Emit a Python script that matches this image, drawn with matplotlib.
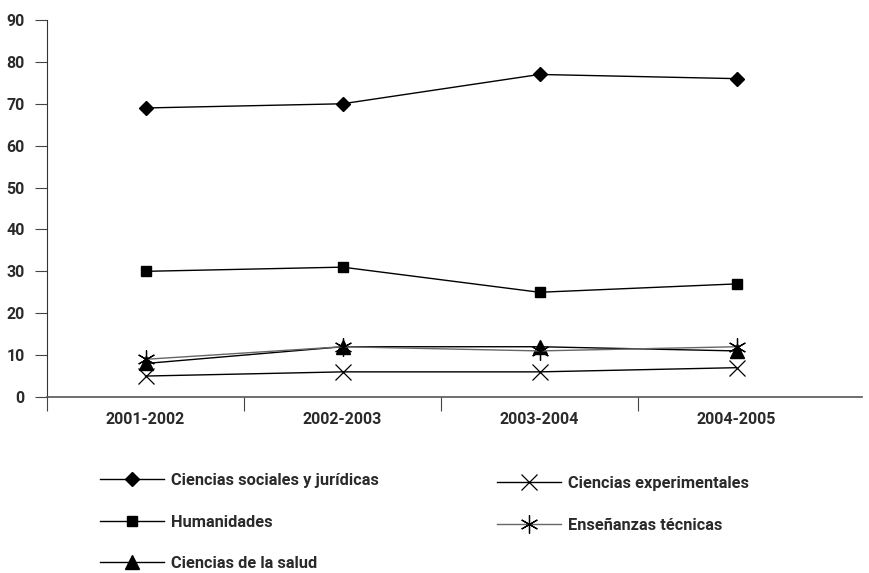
import matplotlib
matplotlib.use('Agg')
import matplotlib.pyplot as plt
from matplotlib.lines import Line2D

# ==== DATA ====
cursos = ['2001-2002', '2002-2003', '2003-2004', '2004-2005']
sociales = [69, 70, 77, 76]
humanidades = [30, 31, 25, 27]
salud = [8, 12, 12, 11]
experimentales = [5, 6, 6, 7]
tecnicas = [9, 12, 11, 12]
y_ticks = [0, 10, 20, 30, 40, 50, 60, 70, 80, 90]
# ==============

plt.rcParams['font.family'] = ['Roboto', 'DejaVu Sans']
plt.rcParams['font.weight'] = 'bold'
plt.rcParams['text.color'] = '#2a2a2a'
plt.rcParams['xtick.color'] = '#444444'
plt.rcParams['ytick.color'] = '#444444'
plt.rcParams['xtick.labelcolor'] = '#2a2a2a'
plt.rcParams['ytick.labelcolor'] = '#2a2a2a'

fig = plt.figure(figsize=(8.69, 5.73), dpi=100)
ax = fig.add_axes([47 / 869, (573 - 397) / 573, (862 - 47) / 869, (397 - 20) / 573])

x = list(range(len(cursos)))
series = [
    ('Ciencias sociales y jurídicas', sociales, dict(marker='D', ms=7.5, color='black')),
    ('Humanidades', humanidades, dict(marker='s', ms=6.5, color='black')),
    ('Ciencias de la salud', salud, dict(marker='^', ms=9.5, color='black')),
    ('Ciencias experimentales', experimentales, dict(marker='x', ms=12, mew=0.9, color='black')),
    ('Enseñanzas técnicas', tecnicas, dict(marker=(6, 2, 0), ms=13, mew=0.9, color='#666666', mec='black')),
]

handles = []
for name, vals, st in series:
    ax.plot(x, vals, lw=1.0, zorder=3, **st)
    handles.append(Line2D([], [], lw=1.0, label=name, **st))

# category bands are ~197 px wide, axis line runs on to ~862 px
ax.set_xlim(-0.5, -0.5 + (862 - 47) / ((835 - 47) / 4))
ax.set_ylim(0, 90)
ax.set_yticks(y_ticks)
ax.tick_params(axis='y', length=9, width=0.8, labelsize=11.5, pad=7)

ax.set_xticks([-0.5, 0.5, 1.5, 2.5])
ax.set_xticklabels([])
ax.tick_params(axis='x', which='major', length=10, width=0.8)
ax.set_xticks(x, minor=True)
ax.set_xticklabels(cursos, minor=True)
ax.tick_params(axis='x', which='minor', length=0, labelsize=11.5, pad=11)

for s in ['top', 'right']:
    ax.spines[s].set_visible(False)
ax.spines['left'].set_color('#333333')
ax.spines['bottom'].set_color('#555555')
ax.spines['bottom'].set_linewidth(1.2)

leg_kw = dict(frameon=False, loc='upper left', fontsize=11.8, handlelength=3.9,
              handletextpad=0.45, borderpad=0, borderaxespad=0, labelspacing=1.62)
leg1 = fig.legend(handles=handles[:3], bbox_to_anchor=(100 / 869, (573 - 473) / 573), **leg_kw)
leg2 = fig.legend(handles=handles[3:], bbox_to_anchor=(497 / 869, (573 - 476) / 573), **leg_kw)

fig.savefig('out.png', dpi=100)
